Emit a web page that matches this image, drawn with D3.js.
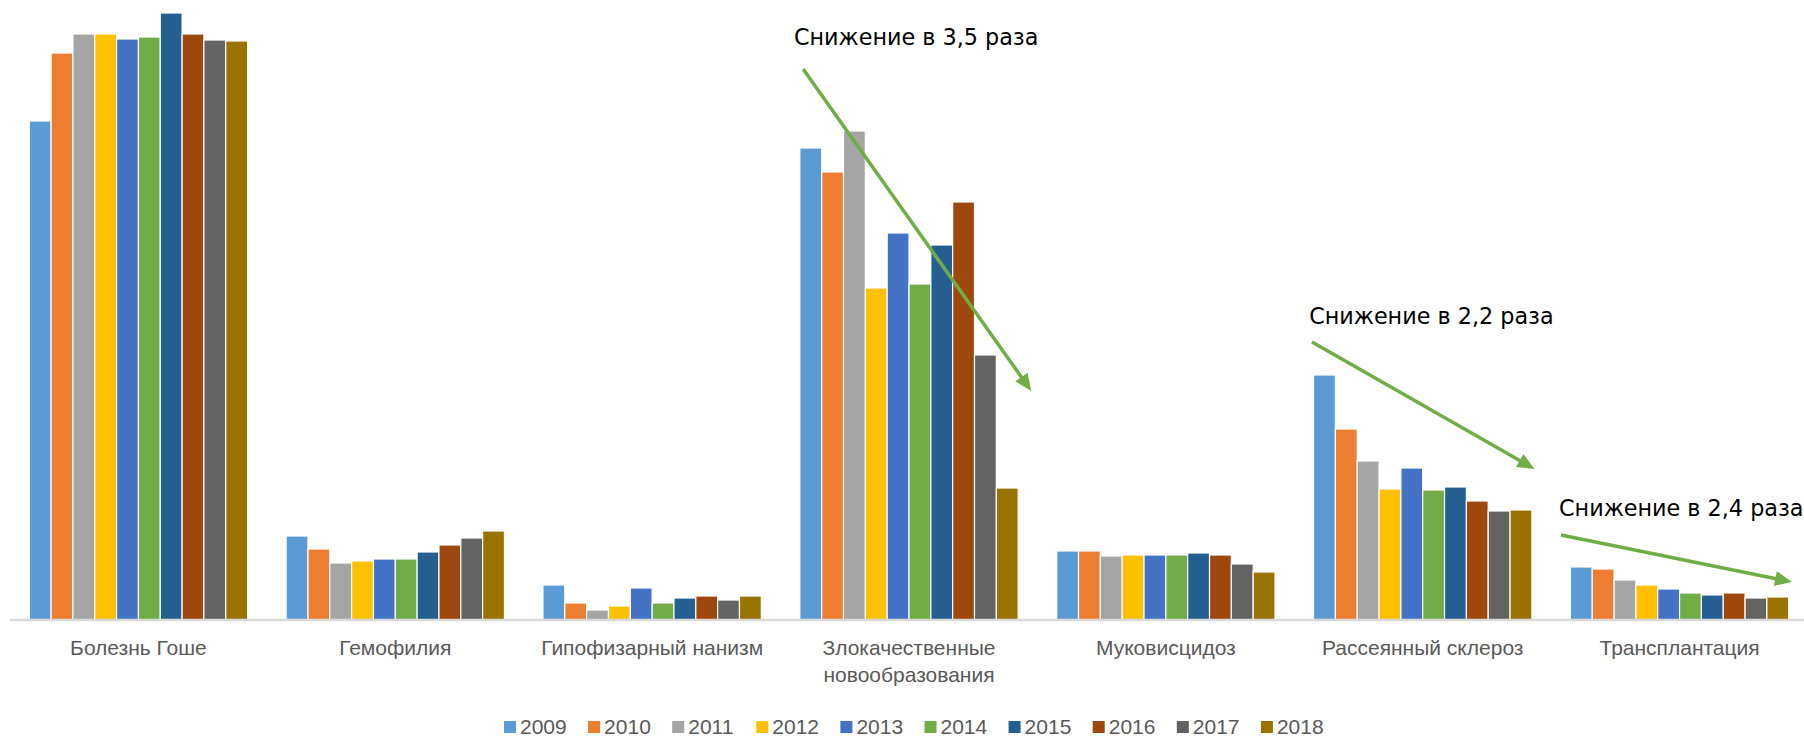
<!DOCTYPE html>
<html>
<head>
<meta charset="utf-8">
<script src="https://cdn.jsdelivr.net/npm/d3@7"></script>
<style>
  body { margin: 0; background: #fff; }
  svg { display: block; }
  .cat-label, .legend text { font-family: "Liberation Sans Narrow", "Liberation Sans", sans-serif; fill: #595959; }
  .note { font-family: "DejaVu Sans", sans-serif; fill: #000; }
</style>
</head>
<body>
<div id="chart"></div>
<script>
const categories = ['Болезнь Гоше', 'Гемофилия', 'Гипофизарный нанизм', 'Злокачественные новообразования', 'Муковисцидоз', 'Рассеянный склероз', 'Трансплантация'];
const years = ['2009', '2010', '2011', '2012', '2013', '2014', '2015', '2016', '2017', '2018'];
const colors = ['#5B9BD5', '#ED7D31', '#A5A5A5', '#FFC000', '#4472C4', '#70AD47', '#255E91', '#9E480E', '#636363', '#997300'];

// values per category, 2009..2018 (no axis in the source, relative units)
const gaucher = [499, 567, 586, 586, 581, 583, 607, 586, 580, 579];
const hemophilia = [84, 71, 57, 59, 61, 61, 68, 75, 82, 89];
const nanism = [35, 17, 10, 14, 32, 17, 22, 24, 20, 24];
const oncology = [472, 448, 489, 332, 387, 336, 375, 418, 265, 132];
const mucoviscidosis = [69, 69, 64, 65, 65, 65, 67, 65, 56, 48];
const sclerosis = [245, 191, 159, 131, 152, 130, 133, 119, 109, 110];
const transplant = [53, 51, 40, 35, 31, 27, 25, 27, 22, 23];
const seriesByCategory = [gaucher, hemophilia, nanism, oncology, mucoviscidosis, sclerosis, transplant];

// trend notes: category, start/end as (fraction of band, value)
const notes = [
  { cat: 3, text: 'Снижение в 3,5 раза', tx: -0.027, tv: 583, x1: 0.015, v1: 551, x2: 1.06, v2: 229 },
  { cat: 5, text: 'Снижение в 2,2 раза', tx: -0.02, tv: 304, x1: -0.007, v1: 278, x2: 1.012, v2: 151 },
  { cat: 6, text: 'Снижение в 2,4 раза', tx: -0.052, tv: 112, x1: -0.043, v1: 85, x2: 1.015, v2: 38 }
];

const width = 1804;
const height = 738;
const baseline = 620;

const svg = d3.select('#chart')
    .append('svg')
    .attr('width', width)
    .attr('height', height);

const x0 = d3.scaleBand()
    .domain(categories)
    .range([10, 1808])
    .paddingInner(0.15)
    .paddingOuter(0.075);

const x1 = d3.scaleBand()
    .domain(years)
    .range([0, x0.bandwidth()]);

const y = d3.scaleLinear()
    .domain([0, 620])
    .range([baseline, 0]);

const color = d3.scaleOrdinal().domain(years).range(colors);

const groups = svg.selectAll('.group')
    .data(categories)
    .enter()
    .append('g')
    .classed('group', true)
    .attr('transform', d => `translate(${x0(d)},0)`);

groups.selectAll('rect')
    .data((d, i) => seriesByCategory[i].map((v, j) => ({ year: years[j], val: v })))
    .enter()
    .append('rect')
    .attr('x', d => x1(d.year))
    .attr('y', d => y(d.val))
    .attr('width', x1.bandwidth())
    .attr('height', d => y(0) - y(d.val))
    .attr('fill', d => color(d.year))
    .attr('stroke', '#fff')
    .attr('stroke-width', 1.2);

// category axis
const xAxis = d3.axisBottom(x0).tickSize(0).tickPadding(0);
const axisG = svg.append('g')
    .attr('transform', `translate(0,${baseline})`)
    .call(xAxis);
axisG.select('.domain').attr('stroke', '#d9d9d9').attr('stroke-width', 2.5).attr('d', 'M10,0H1804');
axisG.selectAll('.tick text').remove();

axisG.selectAll('.tick')
    .append('text')
    .classed('cat-label', true)
    .attr('text-anchor', 'middle')
    .style('font-size', '21px')
    .each(function(d) {
        const words = d === 'Злокачественные новообразования' ? d.split(' ') : [d];
        const t = d3.select(this);
        words.forEach((w, k) => {
            t.append('tspan').attr('x', 0).attr('y', 35 + k * 27).text(w);
        });
    });

// legend
const lx = d3.scaleBand().domain(years).range([504, 1345]);
const legend = svg.append('g').classed('legend', true);
const li = legend.selectAll('g')
    .data(years)
    .enter()
    .append('g')
    .attr('transform', d => `translate(${lx(d)},727)`);
li.append('rect')
    .attr('x', 0).attr('y', -6)
    .attr('width', 12).attr('height', 12)
    .attr('fill', d => color(d));
li.append('text')
    .attr('x', 16).attr('y', 7)
    .style('font-size', '21px')
    .text(d => d);

// trend arrows
const bandX = (c, f) => x0(categories[c]) + f * x0.bandwidth();
const green = '#70AD47';
notes.forEach(n => {
    const sx = bandX(n.cat, n.x1), sy = y(n.v1);
    const ex = bandX(n.cat, n.x2), ey = y(n.v2);
    const ang = Math.atan2(ey - sy, ex - sx);
    const len = 17, half = 7.5;
    const bx = ex - len * Math.cos(ang), by = ey - len * Math.sin(ang);
    svg.append('line')
        .attr('x1', sx).attr('y1', sy)
        .attr('x2', bx + 2 * Math.cos(ang)).attr('y2', by + 2 * Math.sin(ang))
        .attr('stroke', green)
        .attr('stroke-width', 3.5);
    svg.append('path')
        .attr('d', `M${ex},${ey}L${bx - half * Math.sin(ang)},${by + half * Math.cos(ang)}L${bx + half * Math.sin(ang)},${by - half * Math.cos(ang)}Z`)
        .attr('fill', green);
    svg.append('text')
        .classed('note', true)
        .attr('x', bandX(n.cat, n.tx))
        .attr('y', y(n.tv))
        .attr('dy', '0.35em')
        .style('font-size', '22.3px')
        .text(n.text);
});
</script>
</body>
</html>
